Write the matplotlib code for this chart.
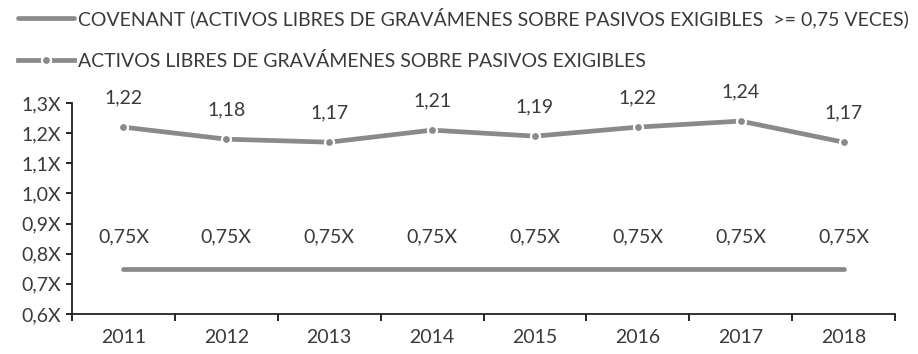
import matplotlib
matplotlib.use("Agg")
import matplotlib.pyplot as plt

years = ["2011", "2012", "2013", "2014", "2015", "2016", "2017", "2018"]
ratio = [1.22, 1.18, 1.17, 1.21, 1.19, 1.22, 1.24, 1.17]
covenant = [0.75, 0.75, 0.75, 0.75, 0.75, 0.75, 0.75, 0.75]
ratio_labels = ["1,22", "1,18", "1,17", "1,21", "1,19", "1,22", "1,24", "1,17"]
covenant_labels = ["0,75X"] * 8
y_ticks = [0.6, 0.7, 0.8, 0.9, 1.0, 1.1, 1.2, 1.3]
y_tick_labels = ["0,6X", "0,7X", "0,8X", "0,9X", "1,0X", "1,1X", "1,2X", "1,3X"]

GREY = "#8a8a8a"
TEXT = "#3a3a3a"
FS = 14
plt.rcParams["font.family"] = ["Lato", "DejaVu Sans"]

fig = plt.figure(figsize=(9.18, 3.54), dpi=100)
ax = fig.add_axes([72 / 918, 40 / 354, 823 / 918, 211 / 354])

x = list(range(len(years)))
cov_line, = ax.plot(x, covenant, color=GREY, lw=3.4, solid_capstyle="round")
rat_line, = ax.plot(x, ratio, color=GREY, lw=3.4, marker="o", ms=6.5,
                    markerfacecolor=GREY, markeredgecolor="white", markeredgewidth=1.6)

for xi, v, s in zip(x, ratio, ratio_labels):
    ax.annotate(s, (xi, v), xytext=(0, 15), textcoords="offset points",
                ha="center", va="bottom", fontsize=FS, color=TEXT)
for xi, v, s in zip(x, covenant, covenant_labels):
    ax.annotate(s, (xi, v), xytext=(0, 17), textcoords="offset points",
                ha="center", va="bottom", fontsize=FS, color=TEXT)

ax.set_xlim(-0.5, 7.5)
ax.set_ylim(0.6, 1.3)
ax.set_yticks(y_ticks)
ax.set_yticklabels(y_tick_labels, fontsize=FS, color=TEXT)
ax.set_xticks([i - 0.5 for i in range(len(years) + 1)])
ax.set_xticklabels([])
ax.set_xticks(x, minor=True)
ax.set_xticklabels(years, minor=True, fontsize=FS, color=TEXT)
ax.tick_params(axis="x", which="minor", length=0, pad=11)
ax.tick_params(axis="x", which="major", length=5, width=1.2, direction="out")
ax.tick_params(axis="y", length=4, width=1.2, direction="out", pad=4)
for side in ("top", "right"):
    ax.spines[side].set_visible(False)
for side in ("left", "bottom"):
    ax.spines[side].set_linewidth(1.3)
    ax.spines[side].set_color("#222222")

fig.legend([cov_line, rat_line],
           ["COVENANT (ACTIVOS LIBRES DE GRAVÁMENES SOBRE PASIVOS EXIGIBLES  >= 0,75 VECES)",
            "ACTIVOS LIBRES DE GRAVÁMENES SOBRE PASIVOS EXIGIBLES"],
           loc="upper left", bbox_to_anchor=(0.0, 1.03), frameon=False,
           fontsize=FS, handlelength=2.9, handletextpad=0.2, labelspacing=1.25,
           labelcolor=TEXT)

fig.savefig("out.png", dpi=100)
